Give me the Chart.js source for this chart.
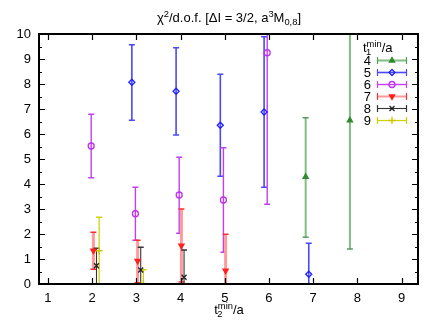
<!DOCTYPE html>
<html>
<head>
<meta charset="utf-8">
<script src="https://cdn.jsdelivr.net/npm/chart.js"></script>
<style>
  html, body { margin:0; padding:0; background:#fff; }
  #c { display:block; }
</style>
</head>
<body>
<canvas id="c" width="436" height="327"></canvas>
<script>
// tick labels
const xTicks = [1, 2, 3, 4, 5, 6, 7, 8, 9];
const yTicks = [0, 1, 2, 3, 4, 5, 6, 7, 8, 9, 10];

// t1min/a = 4
const x4 = [6.83, 7.83];
const y4 = [4.29, 6.55];
const lo4 = [1.87, 1.40];
const hi4 = [6.65, 11.7];
// t1min/a = 5
const x5 = [2.90, 3.90, 4.90, 5.89, 6.90];
const y5 = [8.07, 7.71, 6.35, 6.88, 0.39];
const lo5 = [6.55, 5.96, 4.31, 3.87, 0.0];
const hi5 = [9.57, 9.45, 8.39, 9.89, 1.63];
// t1min/a = 6
const x6 = [1.98, 2.98, 3.97, 4.97, 5.96];
const y6 = [5.52, 2.81, 3.56, 3.36, 9.25];
const lo6 = [4.25, 1.75, 2.03, 1.27, 3.19];
const hi6 = [6.79, 3.87, 5.07, 5.45, 15.3];
// t1min/a = 7
const x7 = [2.03, 3.03, 4.02, 5.02];
const y7 = [1.33, 0.92, 1.53, 0.53];
const lo7 = [0.59, 0.05, 0.08, 0.0];
const hi7 = [2.07, 1.75, 3.00, 1.99];
// t1min/a = 8
const x8 = [2.10, 3.10, 4.08];
const y8 = [0.73, 0.56, 0.27];
const lo8 = [0.0, 0.0, 0.0];
const hi8 = [1.43, 1.47, 1.36];
// t1min/a = 9
const x9 = [2.16, 3.16];
const y9 = [1.33, 0.02];
const lo9 = [0.0, 0.0];
const hi9 = [2.67, 0.57];

const FONT = '"Liberation Sans", Arial, sans-serif';

const pts = (xs, ys) => xs.map((x, i) => ({ x, y: ys[i] }));

function series(label, xs, ys, lo, hi, st) {
  return {
    label,
    data: pts(xs, ys),
    errLo: lo, errHi: hi,
    showLine: false,
    pointStyle: st.style,
    rotation: st.rot || 0,
    pointRadius: st.r || 3,
    pointBorderWidth: st.bw || 1.3,
    borderColor: st.mark,
    backgroundColor: st.fill || 'rgba(0,0,0,0)',
    barColor: st.bar, barWidth: st.barW || 1.3, capColor: st.cap || st.bar
  };
}

const datasets = [
  series('4', x4, y4, lo4, hi4, { style:'triangle', mark:'#2e8b2e', fill:'#2e8b2e', bar:'#7fbf7f', cap:'#5a9a5a', barW:2, r:3 }),
  series('5', x5, y5, lo5, hi5, { style:'rectRot', mark:'#2020ff', bar:'#4848ff', barW:1.6, r:3 }),
  series('6', x6, y6, lo6, hi6, { style:'circle', mark:'#c030f0', bar:'#c040f0', barW:1.4, r:3 }),
  series('7', x7, y7, lo7, hi7, { style:'triangle', rot:180, mark:'#ff2020', fill:'#ff2020', bar:'#ff9a9a', cap:'#ff3030', barW:3, r:3 }),
  series('8', x8, y8, lo8, hi8, { style:'crossRot', mark:'#222', bar:'#333', barW:1.1, r:3.5 }),
  series('9', x9, y9, lo9, hi9, { style:'cross', mark:'#c8c800', bar:'#d0d000', barW:1.2, r:3.5 })
];

// error bars through the chart scales, clipped to the plot area
const errorBars = {
  id: 'errorBars',
  beforeDatasetsDraw(chart) {
    const { ctx, chartArea: a, scales: { x, y } } = chart;
    ctx.save();
    ctx.beginPath();
    ctx.rect(a.left, a.top, a.right - a.left, a.bottom - a.top);
    ctx.clip();
    chart.data.datasets.forEach(ds => {
      ds.data.forEach((p, i) => {
        const px = x.getPixelForValue(p.x);
        const pHi = y.getPixelForValue(ds.errHi[i]);
        const pLo = y.getPixelForValue(ds.errLo[i]);
        ctx.strokeStyle = ds.barColor;
        ctx.lineWidth = ds.barWidth;
        ctx.beginPath();
        ctx.moveTo(px, pHi); ctx.lineTo(px, pLo);
        ctx.stroke();
        ctx.strokeStyle = ds.capColor;
        ctx.lineWidth = 1.3;
        ctx.beginPath();
        ctx.moveTo(px - 3, pHi); ctx.lineTo(px + 3, pHi);
        ctx.moveTo(px - 3, pLo); ctx.lineTo(px + 3, pLo);
        ctx.stroke();
      });
    });
    ctx.restore();
  }
};

// rich text: segments of [text, 'sup'|'sub'|undefined]
function richWidth(ctx, segs, size) {
  let w = 0;
  segs.forEach(([t, m]) => {
    ctx.font = (m ? size * 0.72 : size) + 'px ' + FONT;
    w += ctx.measureText(t).width;
  });
  return w;
}
function drawRich(ctx, segs, x, y, size) {
  ctx.textAlign = 'left';
  ctx.textBaseline = 'alphabetic';
  segs.forEach(([t, m]) => {
    const s = m ? size * 0.72 : size;
    ctx.font = s + 'px ' + FONT;
    const dy = m === 'sup' ? -size * 0.42 : m === 'sub' ? size * 0.25 : 0;
    ctx.fillText(t, x, y + dy);
    x += ctx.measureText(t).width;
  });
}

const frame = {
  id: 'frame',
  afterDraw(chart) {
    const { ctx, chartArea: a, scales: { x, y } } = chart;
    ctx.save();
    ctx.strokeStyle = '#000';
    ctx.lineWidth = 1.2;
    // ticks pointing inward on all four sides
    ctx.beginPath();
    xTicks.forEach(v => {
      const px = Math.round(x.getPixelForValue(v)) + 0.5;
      ctx.moveTo(px, a.bottom); ctx.lineTo(px, a.bottom - 6);
      ctx.moveTo(px, a.top); ctx.lineTo(px, a.top + 6);
    });
    yTicks.forEach(v => {
      const py = Math.round(y.getPixelForValue(v)) + 0.5;
      ctx.moveTo(a.left, py); ctx.lineTo(a.left + 6, py);
      ctx.moveTo(a.right, py); ctx.lineTo(a.right - 6, py);
      if (v < 10) {
        const pm = Math.round(y.getPixelForValue(v + 0.5)) + 0.5;
        ctx.moveTo(a.left, pm); ctx.lineTo(a.left + 3, pm);
        ctx.moveTo(a.right, pm); ctx.lineTo(a.right - 3, pm);
      }
    });
    ctx.stroke();
    ctx.lineWidth = 2;
    ctx.strokeRect(a.left, a.top, a.right - a.left, a.bottom - a.top);

    ctx.fillStyle = '#000';
    // title
    const title = [['χ'], ['2', 'sup'], ['/d.o.f. [ΔI = 3/2, a'], ['3', 'sup'], ['M'], ['0,8', 'sub'], [']']];
    const tw = richWidth(ctx, title, 13);
    drawRich(ctx, title, 229 - tw / 2, 22, 13);
    // x axis title
    const xt = [['t'], ['2', 'sub'], ['min', 'sup'], ['/a']];
    ctx.font = '13px ' + FONT;
    const xw = ctx.measureText('t').width + richWidth(ctx, [['min', 'sup'], ['/a']], 13);
    let cx = 229 - xw / 2;
    ctx.fillText('t', cx, 314);
    cx += ctx.measureText('t').width;
    ctx.font = (13 * 0.72) + 'px ' + FONT;
    ctx.fillText('2', cx - 0.5, 314 + 3);
    drawRich(ctx, [['min', 'sup'], ['/a']], cx, 314, 13);

    // legend
    const lx = 363;
    ctx.font = '13px ' + FONT;
    ctx.fillText('t', lx, 52);
    const tW = ctx.measureText('t').width;
    ctx.font = (13 * 0.72) + 'px ' + FONT;
    ctx.fillText('1', lx + tW - 0.5, 55);
    drawRich(ctx, [['min', 'sup'], ['/a']], lx + tW, 52, 13);
    chart.data.datasets.forEach((ds, i) => {
      const ly = 60 + i * 12;
      ctx.fillStyle = '#000';
      ctx.font = '13px ' + FONT;
      ctx.textAlign = 'right';
      ctx.textBaseline = 'middle';
      ctx.fillText(ds.label, 371, ly + 1);
      ctx.strokeStyle = ds.barColor;
      ctx.lineWidth = Math.min(ds.barWidth, 2);
      ctx.beginPath();
      ctx.moveTo(377, ly + 0.5); ctx.lineTo(407, ly + 0.5);
      ctx.stroke();
      ctx.strokeStyle = ds.capColor;
      ctx.lineWidth = 1.2;
      ctx.beginPath();
      ctx.moveTo(377.5, ly - 3); ctx.lineTo(377.5, ly + 4);
      ctx.moveTo(406.5, ly - 3); ctx.lineTo(406.5, ly + 4);
      ctx.stroke();
      ctx.strokeStyle = ds.borderColor;
      ctx.fillStyle = ds.backgroundColor;
      ctx.lineWidth = ds.pointBorderWidth;
      Chart.helpers.drawPoint(ctx, { pointStyle: ds.pointStyle, radius: ds.pointRadius, rotation: ds.rotation, borderWidth: ds.pointBorderWidth }, 392, ly + 0.5);
    });
    ctx.restore();
  }
};

new Chart(document.getElementById('c'), {
  type: 'scatter',
  data: { datasets },
  plugins: [errorBars, frame],
  options: {
    responsive: false,
    animation: false,
    layout: { padding: { left: 0, top: 34, right: 18, bottom: 0 } },
    plugins: { legend: { display: false }, title: { display: false }, tooltip: { enabled: false } },
    scales: {
      x: {
        type: 'linear', min: 0.8, max: 9.37,
        afterBuildTicks: s => { s.ticks = xTicks.map(v => ({ value: v })); },
        afterFit: s => { s.height = 43; },
        grid: { display: false, drawTicks: false },
        border: { display: false },
        ticks: { color: '#000', padding: 7, font: { family: FONT, size: 13 }, maxRotation: 0, autoSkip: false }
      },
      y: {
        type: 'linear', min: 0, max: 10,
        afterBuildTicks: s => { s.ticks = yTicks.map(v => ({ value: v })); },
        afterFit: s => { s.width = 39; },
        grid: { display: false, drawTicks: false },
        border: { display: false },
        ticks: { color: '#000', padding: 8, font: { family: FONT, size: 13 }, autoSkip: false }
      }
    }
  }
});
</script>
</body>
</html>
